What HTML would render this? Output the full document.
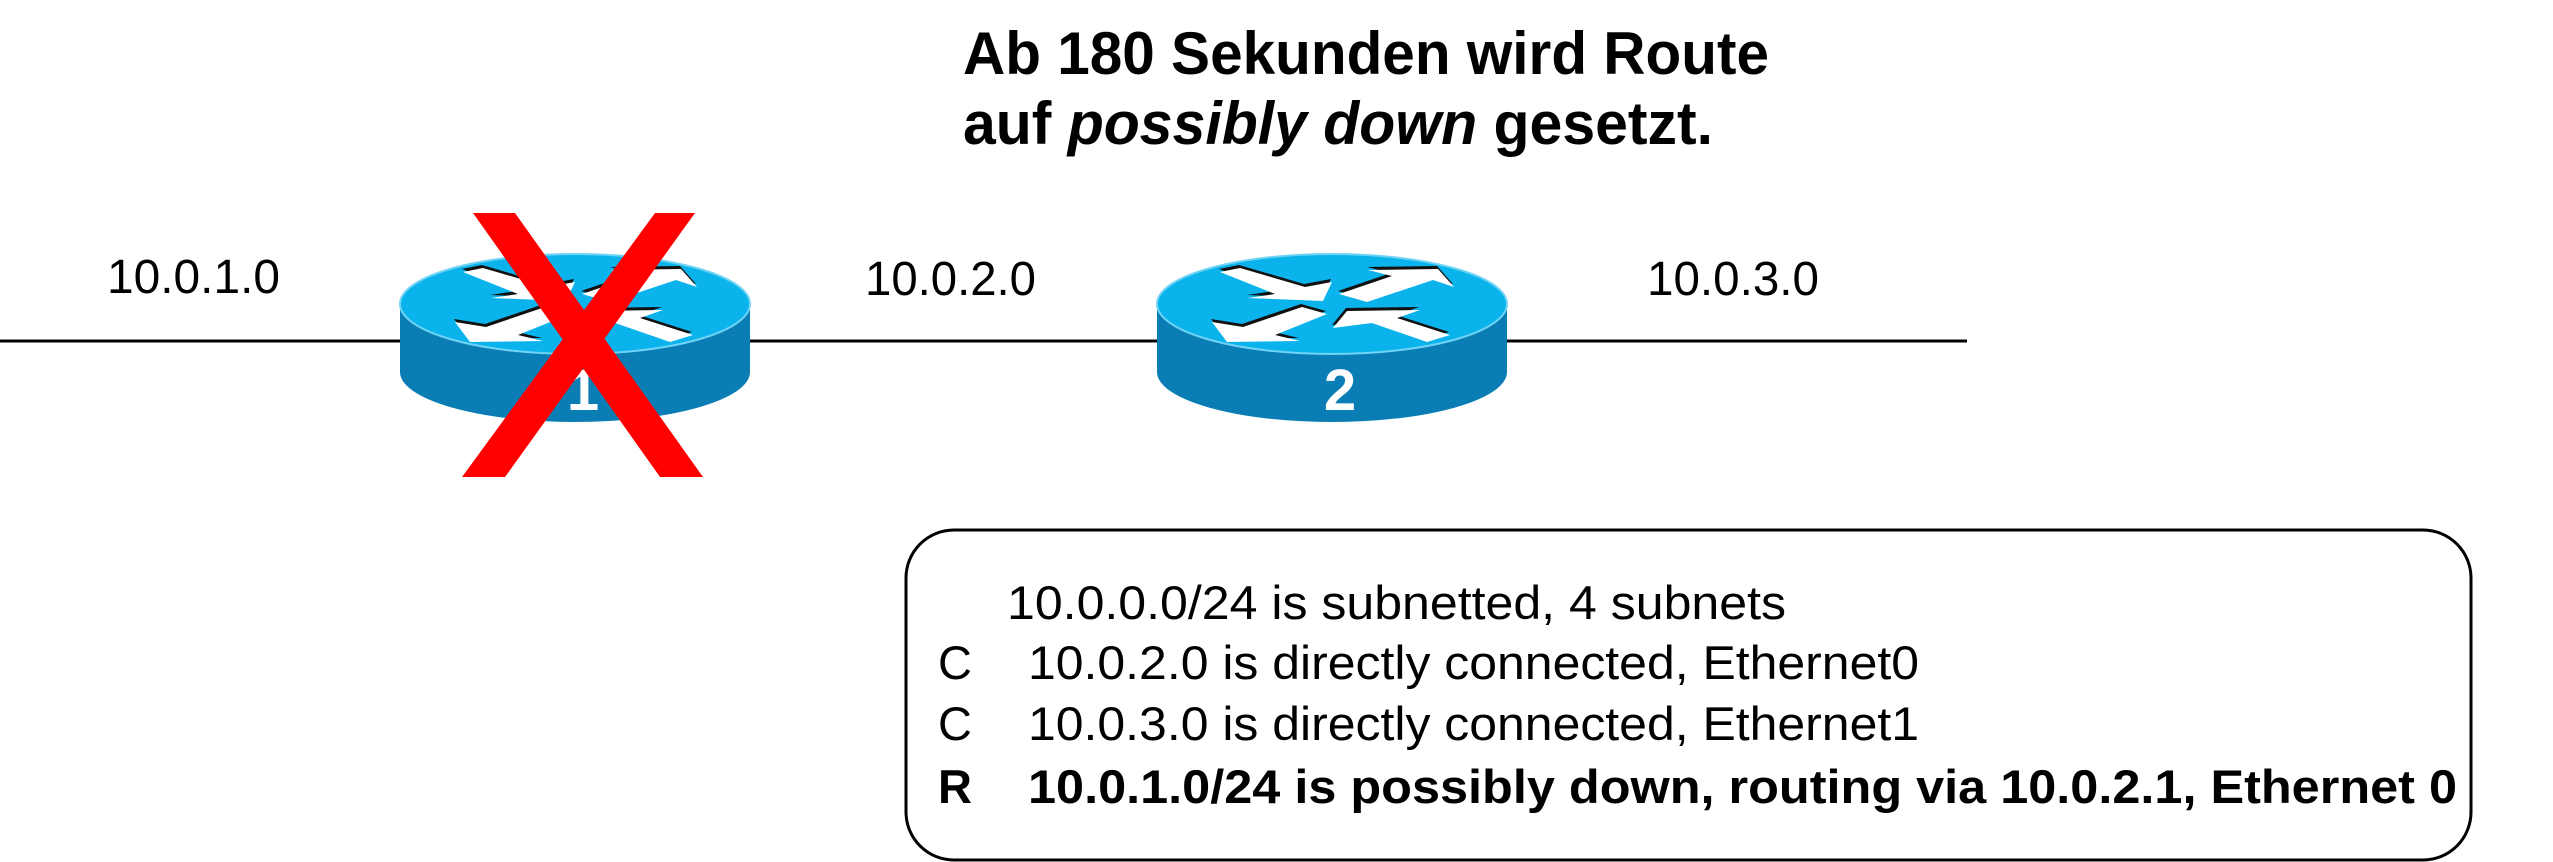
<!DOCTYPE html>
<html><head><meta charset="utf-8"><style>
html,body{margin:0;padding:0;background:#fff;}
svg{display:block;}
text{font-family:"Liberation Sans",Arial,sans-serif;}
</style></head><body>
<svg width="2553" height="862" viewBox="0 0 2553 862" xmlns="http://www.w3.org/2000/svg">
<defs>
<g id="router">
  <path d="M-175,0 L-175,68 A175,50 0 0 0 175,68 L175,0 Z" fill="#0A7DB4"/>
  <ellipse cx="0" cy="0" rx="175" ry="50" fill="#0BB3EC" stroke="#6FD3F5" stroke-width="2"/>
  <g transform="translate(-1332,-304)">
    <g fill="#111" transform="translate(-1,-3)">
      <polygon points="1220,272 1240,268 1305,287 1332,282 1323,301 1248,298 1275,294"/>
      <polygon points="1339,294 1392,276 1368,270 1438,269 1454,287 1433,280 1367,302"/>
      <polygon points="1327,314 1302,307 1243,327 1212,322 1227,342 1300,341 1275,335"/>
      <polygon points="1347,311 1420,310 1397,318 1450,335 1427,342 1372,323 1333,328"/>
    </g>
    <g fill="#fff">
      <polygon points="1220,272 1240,268 1305,287 1332,282 1323,301 1248,298 1275,294"/>
      <polygon points="1339,294 1392,276 1368,270 1438,269 1454,287 1433,280 1367,302"/>
      <polygon points="1327,314 1302,307 1243,327 1212,322 1227,342 1300,341 1275,335"/>
      <polygon points="1347,311 1420,310 1397,318 1450,335 1427,342 1372,323 1333,328"/>
    </g>
  </g>
</g>
</defs>

<text x="963" y="74" font-size="60" font-weight="bold" textLength="806" lengthAdjust="spacingAndGlyphs">Ab 180 Sekunden wird Route</text>
<text x="963" y="144" font-size="60" font-weight="bold" textLength="750" lengthAdjust="spacingAndGlyphs">auf <tspan font-style="italic">possibly down</tspan> gesetzt.</text>

<line x1="0" y1="341" x2="1967" y2="341" stroke="#000" stroke-width="3"/>

<text x="107" y="293" font-size="48" textLength="173" lengthAdjust="spacingAndGlyphs">10.0.1.0</text>
<text x="865" y="295" font-size="48" textLength="171" lengthAdjust="spacingAndGlyphs">10.0.2.0</text>
<text x="1647" y="295" font-size="48" textLength="172" lengthAdjust="spacingAndGlyphs">10.0.3.0</text>

<use href="#router" transform="translate(575,304)"/>
<text x="583" y="410" font-size="58" font-weight="bold" fill="#fff" text-anchor="middle">1</text>
<use href="#router" transform="translate(1332,304)"/>
<text x="1340" y="410" font-size="58" font-weight="bold" fill="#fff" text-anchor="middle">2</text>

<polygon points="473,213 515,213 703,477 660,477" fill="#FF0000"/>
<polygon points="695,213 655,213 462,477 505,477" fill="#FF0000"/>

<rect x="906" y="530" width="1565" height="330" rx="48" ry="48" fill="none" stroke="#000" stroke-width="3"/>
<text x="1007" y="619" font-size="47" textLength="779" lengthAdjust="spacingAndGlyphs">10.0.0.0/24 is subnetted, 4 subnets</text>
<text x="938" y="679" font-size="47">C</text>
<text x="1028" y="679" font-size="47" textLength="891" lengthAdjust="spacingAndGlyphs">10.0.2.0 is directly connected, Ethernet0</text>
<text x="938" y="740" font-size="47">C</text>
<text x="1028" y="740" font-size="47" textLength="891" lengthAdjust="spacingAndGlyphs">10.0.3.0 is directly connected, Ethernet1</text>
<text x="938" y="803" font-size="47" font-weight="bold">R</text>
<text x="1028" y="803" font-size="47" font-weight="bold" textLength="1429" lengthAdjust="spacingAndGlyphs">10.0.1.0/24 is possibly down, routing via 10.0.2.1, Ethernet 0</text>
</svg>
</body></html>
